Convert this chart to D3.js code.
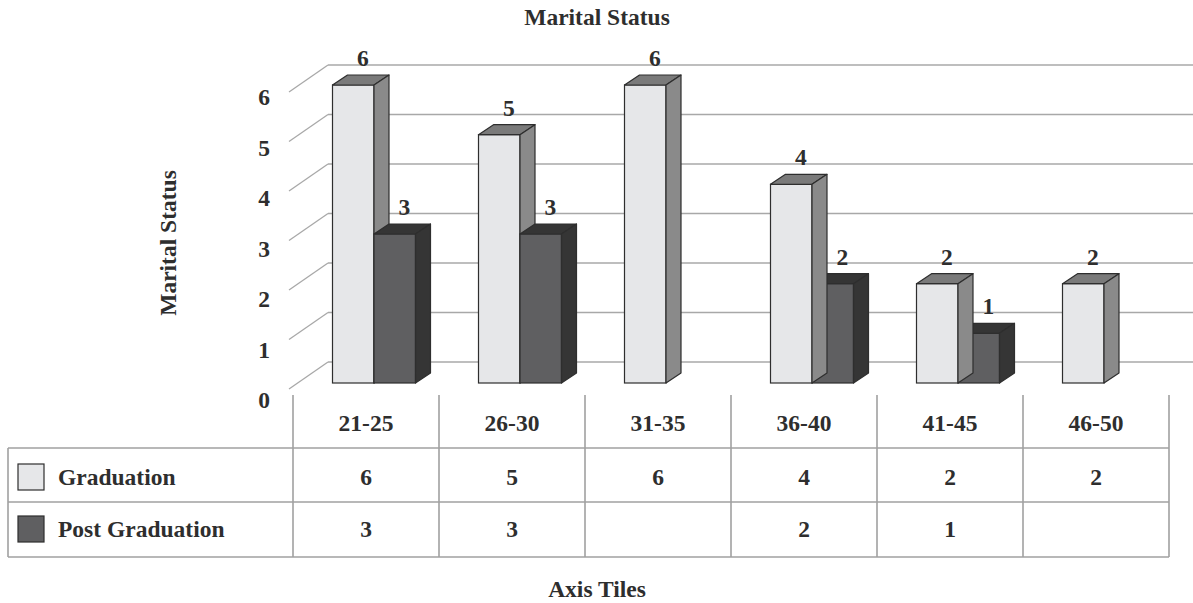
<!DOCTYPE html>
<html>
<head>
<meta charset="utf-8">
<script src="https://cdn.jsdelivr.net/npm/d3@7/dist/d3.min.js"></script>
<style>
  html, body { margin: 0; padding: 0; background: #ffffff; }
  svg { display: block; }
  text { font-family: "Liberation Serif", "Times New Roman", serif; font-weight: bold; fill: #2e2e2e; }
</style>
</head>
<body>
<svg id="chart" width="1193" height="603"></svg>
<script>
// Age groups and counts per qualification
const categories = ["21-25", "26-30", "31-35", "36-40", "41-45", "46-50"];
const graduation = [6, 5, 6, 4, 2, 2];
const postGraduation = [3, 3, null, 2, 1, null];
const yTicks = [0, 1, 2, 3, 4, 5, 6];
const seriesNames = ["Graduation", "Post Graduation"];

const svg = d3.select("#chart");
const fs = "23.5px";

const series = [
  { name: seriesNames[0], values: graduation, front: "#e6e7e9", top: "#7a7a7a", side: "#8a8a8a" },
  { name: seriesNames[1], values: postGraduation, front: "#5f5f61", top: "#353535", side: "#353535" }
];

// Scales: front plane of the plot (categories), bar heights, back wall gridlines
const x = d3.scaleBand().domain(categories).range([293, 1169]).paddingInner(0).paddingOuter(0);
const yBar = d3.scaleLinear().domain([0, 6]).range([383, 85]);
const yWall = d3.scaleLinear().domain([0, 6]).range([362, 65]);
const yLabel = d3.scaleLinear().domain([0, 6]).range([408, 105]);
const groupW = 83;
const xSeries = d3.scaleBand().domain(seriesNames).range([0, groupW]);

// Depth offsets
const wallDx = 39, wallDy = -27;   // floor/wall depth
const barDx = 15, barDy = -10;     // bar depth
const barShift = 8;                // bars sit slightly behind the front plane

const gridColor = "#a8a8a8";
const lineColor = "#a0a0a0";
const edge = "#2e2e2e";

// Back wall gridlines and their diagonal ties to the front
const grid = svg.append("g");
yTicks.forEach(t => {
  const yb = yWall(t);
  grid.append("line")
    .attr("x1", 293 + wallDx - 4).attr("x2", 1193)
    .attr("y1", yb).attr("y2", yb)
    .attr("stroke", gridColor).attr("stroke-width", 1.3);
  grid.append("line")
    .attr("x1", 289).attr("y1", yb - wallDy)
    .attr("x2", 289 + wallDx).attr("y2", yb)
    .attr("stroke", gridColor).attr("stroke-width", 1.3);
});

// Value axis labels
svg.append("g").selectAll("text").data(yTicks).join("text")
  .attr("x", 264).attr("y", d => yLabel(d))
  .attr("text-anchor", "middle").style("font-size", fs)
  .text(d => d);

// 3-D columns
const bars = svg.append("g");
const labels = [];
const mid = categories.length / 2;
categories.forEach((cat, i) => {
  const order = i < mid ? [0, 1] : [1, 0];
  order.forEach(si => {
    const s = series[si];
    const v = s.values[i];
    if (v == null) return;
    const x0 = x(cat) + (x.bandwidth() - groupW) / 2 + barShift + xSeries(s.name);
    const x1 = x0 + xSeries.bandwidth();
    const yt = yBar(v), yb = yBar(0);
    const g = bars.append("g");
    g.append("rect")
      .attr("x", x0).attr("y", yt).attr("width", x1 - x0).attr("height", yb - yt)
      .attr("fill", s.front).attr("stroke", edge).attr("stroke-width", 1.2);
    g.append("polygon")
      .attr("points", [[x0, yt], [x1, yt], [x1 + barDx, yt + barDy], [x0 + barDx, yt + barDy]].join(" "))
      .attr("fill", s.top).attr("stroke", edge).attr("stroke-width", 1.2).attr("stroke-linejoin", "round");
    g.append("polygon")
      .attr("points", [[x1, yt], [x1 + barDx, yt + barDy], [x1 + barDx, yb + barDy], [x1, yb]].join(" "))
      .attr("fill", s.side).attr("stroke", edge).attr("stroke-width", 1.2).attr("stroke-linejoin", "round");
    labels.push({ x: (x0 + x1) / 2 + barDx / 2 + 2, y: yt + barDy - 9, v });
  });
});

svg.append("g").selectAll("text").data(labels).join("text")
  .attr("x", d => d.x).attr("y", d => d.y)
  .attr("text-anchor", "middle").style("font-size", fs)
  .text(d => d.v);

// Data table beneath the plot
const table = svg.append("g");
const colEdges = categories.map(c => x(c)).concat([x.range()[1]]);
const rowTop = 395, row1 = 448, row2 = 502, row3 = 557, tableLeft = 8;
colEdges.forEach(cx => {
  table.append("line").attr("x1", cx).attr("x2", cx).attr("y1", rowTop).attr("y2", row3)
    .attr("stroke", lineColor).attr("stroke-width", 1.6);
});
[row1, row2, row3].forEach(ry => {
  table.append("line").attr("x1", tableLeft).attr("x2", x.range()[1]).attr("y1", ry).attr("y2", ry)
    .attr("stroke", lineColor).attr("stroke-width", 1.6);
});
table.append("line").attr("x1", tableLeft).attr("x2", tableLeft).attr("y1", row1).attr("y2", row3)
  .attr("stroke", lineColor).attr("stroke-width", 1.6);

table.selectAll("text.cat").data(categories).join("text").attr("class", "cat")
  .attr("x", d => x(d) + x.bandwidth() / 2).attr("y", 431)
  .attr("text-anchor", "middle").style("font-size", fs).text(d => d);

const rowBase = [485, 537];
series.forEach((s, si) => {
  table.append("rect")
    .attr("x", 18).attr("y", rowBase[si] - 21).attr("width", 26).attr("height", 26)
    .attr("fill", s.front).attr("stroke", edge).attr("stroke-width", 1.2);
  table.append("text").attr("x", 58).attr("y", rowBase[si])
    .style("font-size", fs).text(s.name);
  table.selectAll("text.v" + si).data(s.values).join("text").attr("class", "v" + si)
    .attr("x", (d, i) => x(categories[i]) + x.bandwidth() / 2).attr("y", rowBase[si])
    .attr("text-anchor", "middle").style("font-size", fs)
    .text(d => d == null ? "" : d);
});

// Titles
svg.append("text").attr("x", 597).attr("y", 25).attr("text-anchor", "middle")
  .style("font-size", fs).text("Marital Status");
svg.append("text").attr("x", 597).attr("y", 597).attr("text-anchor", "middle")
  .style("font-size", fs).text("Axis Tiles");
svg.append("text").attr("transform", "translate(176,243) rotate(-90)").attr("text-anchor", "middle")
  .style("font-size", fs).text("Marital Status");
</script>
</body>
</html>
